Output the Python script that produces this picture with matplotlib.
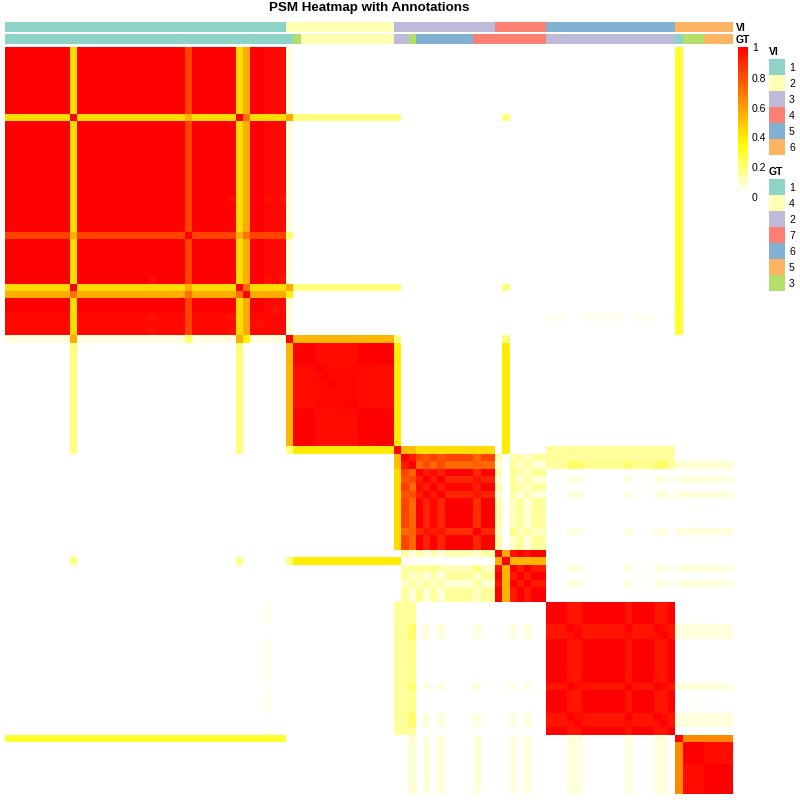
# PSM heatmap with VI and GT annotation bars

import numpy as np
import matplotlib
matplotlib.use('Agg')
import matplotlib.pyplot as plt
from matplotlib.colors import LinearSegmentedColormap, ListedColormap
from matplotlib.patches import Rectangle

plt.rcParams['font.family'] = ['Liberation Sans', 'DejaVu Sans']

n_items = 101
set3 = {'teal': '#8DD3C7', 'pale': '#FFFFB3', 'purple': '#BEBADA', 'salmon': '#FB8072',
        'blue': '#80B1D3', 'orange': '#FDB462', 'green': '#B3DE69'}

vi_levels = [1, 2, 3, 4, 5, 6]
vi_colors = ['teal', 'pale', 'purple', 'salmon', 'blue', 'orange']
vi_runs = [(1, 39), (2, 15), (3, 14), (4, 7), (5, 18), (6, 8)]

gt_levels = [1, 4, 2, 7, 6, 5, 3]
gt_colors = ['teal', 'pale', 'purple', 'salmon', 'blue', 'orange', 'green']
gt_runs = [(1, 40), (3, 1), (4, 13), (2, 2), (3, 1), (6, 8), (7, 10), (2, 18), (1, 1), (3, 3), (5, 4)]

# item groups
block_a = list(range(0, 39))
block_b = list(range(40, 54))
block_c = list(range(55, 68))
block_d = list(range(68, 75))
block_e = list(range(75, 93))
block_f = list(range(93, 101))

# block A: values of the odd rows against the rest
a_plain = [i for i in block_a if i not in (9, 25, 32, 33)]
a_tail = [36, 37, 38]
a_row9 = 0.42
a_row25 = 0.82
a_row33 = 0.55
a_cross = [(9, 25, 0.54), (25, 32, 0.54), (9, 33, 0.70), (32, 33, 0.70), (25, 33, 0.70), (9, 32, 1.0)]
a_spots = [(31, 20, 0.97), (36, 20, 0.95), (38, 20, 0.95), (36, 31, 0.95), (38, 31, 0.95), (34, 36, 0.98), (35, 37, 0.95)]

# item 39 against block A
i39_plain = 0.04
i39_cross = [(9, 0.55), (25, 0.20), (32, 0.55), (33, 0.36)]

# block B
b_groups = [[40, 41, 42], [43, 44, 45, 46, 47], [48], [49, 50, 51, 52, 53]]
b_table = [[1.00, 0.97, 0.97, 1.00],
           [0.97, 0.975, 0.98, 0.97],
           [0.97, 0.98, 1.00, 0.97],
           [1.00, 0.97, 0.97, 1.00]]
b_diag = [43, 44, 45]

# links around block B
i39_b = 0.52
i39_i54 = 0.17
i54_b = 0.38
i54_c = [0.50, 0.50] + [0.42] * 11
i69_b = 0.38
pale_b = 0.17

# block C
c_groups = [[55], [56], [57], [58], [59], [60], [61, 62, 63, 64], [65], [66, 67]]
c_table = [[1.00, 0.93, 0.82, 0.77, 0.84, 0.78, 0.82, 0.72, 0.82],
           [0.93, 1.00, 0.73, 0.80, 0.72, 0.80, 0.72, 0.74, 0.72],
           [0.82, 0.73, 1.00, 0.93, 0.97, 0.92, 1.00, 0.89, 1.00],
           [0.77, 0.80, 0.93, 1.00, 0.93, 1.00, 0.90, 0.95, 0.91],
           [0.84, 0.72, 0.97, 0.93, 1.00, 0.93, 0.98, 0.92, 1.00],
           [0.78, 0.80, 0.92, 1.00, 0.93, 1.00, 0.90, 0.94, 0.90],
           [0.82, 0.72, 1.00, 0.90, 0.98, 0.90, 1.00, 0.88, 1.00],
           [0.72, 0.74, 0.89, 0.95, 0.92, 0.94, 0.88, 1.00, 0.90],
           [0.82, 0.72, 1.00, 0.91, 1.00, 0.90, 1.00, 0.90, 1.00]]

# block D
d_groups = [[68], [69], [70], [71], [72], [73, 74]]
d_table = [[1.00, 0.55, 0.95, 1.00, 0.95, 1.00],
           [0.55, 1.00, 0.52, 0.52, 0.52, 0.52],
           [0.95, 0.52, 1.00, 0.93, 1.00, 0.93],
           [1.00, 0.52, 0.93, 1.00, 0.93, 1.00],
           [0.95, 0.52, 1.00, 0.93, 1.00, 0.93],
           [1.00, 0.52, 0.93, 1.00, 0.93, 1.00]]

# block C rows against block D columns
cd_table = [[0.11, 0.00, 0.11, 0.13, 0.07, 0.13],
            [0.05, 0.00, 0.13, 0.07, 0.13, 0.05],
            [0.11, 0.00, 0.14, 0.11, 0.07, 0.14],
            [0.05, 0.00, 0.13, 0.04, 0.13, 0.05],
            [0.10, 0.00, 0.14, 0.11, 0.08, 0.13],
            [0.05, 0.00, 0.11, 0.04, 0.11, 0.05],
            [0.10, 0.00, 0.09, 0.13, 0.05, 0.13],
            [0.07, 0.00, 0.17, 0.08, 0.13, 0.08],
            [0.11, 0.00, 0.08, 0.13, 0.05, 0.13]]

# block E
e_set1 = [78, 86, 90]
e_set2 = [79, 91]
e_rest = [75, 76, 77, 80, 81, 82, 83, 84, 85, 87, 88, 89, 92]
e_tagged_tagged = 0.97
e_tagged_rest = 0.945

# block F
f_first = [93]
f_mid = [94, 95, 96]
f_last = [97, 98, 99, 100]
f_first_rest = 0.64
f_mid_last = 0.97

# weak links
col93_a = 0.27
i54_55_e = 0.13
i56_e_rest = [0.13, 0.13, 0.13, 0.15, 0.15, 0.15, 0.15, 0.15, 0.15, 0.15, 0.15, 0.15, 0.13]
i56_e_tagged = 0.20
faint_set1 = [58, 60, 65, 70, 72]
faint_set2 = e_set1 + e_set2
faint_value = 0.045
i56_f = 0.06
i36_e_rest = 0.02
i36_93 = 0.27


def link(mat, rows, cols, value):
    for r in rows:
        for c in cols:
            mat[r, c] = value
            mat[c, r] = value


def fill_table(mat, groups, table):
    for gi, g in enumerate(groups):
        for hi, h in enumerate(groups):
            link(mat, g, h, table[gi][hi])


psm = np.zeros((n_items, n_items))

link(psm, block_a, block_a, 1.0)
link(psm, a_tail, a_plain, 0.975)
link(psm, a_tail, a_tail, 0.98)
link(psm, [9, 32], a_plain, a_row9)
link(psm, [25], a_plain, a_row25)
link(psm, [33], a_plain, a_row33)
for r, c, v in a_cross:
    link(psm, [r], [c], v)
for r, c, v in a_spots:
    link(psm, [r], [c], v)
for i in [9, 25, 32, 33]:
    psm[i, i] = 1.0

psm[39, 39] = 1.0
link(psm, [39], block_a, i39_plain)
for c, v in i39_cross:
    link(psm, [39], [c], v)

fill_table(psm, b_groups, b_table)
for i in b_diag:
    psm[i, i] = 1.0
link(psm, [39], block_b, i39_b)
link(psm, [39], [54], i39_i54)
link(psm, [54], block_b, i54_b)
psm[54, 54] = 1.0
for c, v in zip(block_c, i54_c):
    link(psm, [54], [c], v)
link(psm, [9, 32], block_b + [54], pale_b)
link(psm, [69], block_b + [54], i69_b)
link(psm, [69], [9, 32, 39], pale_b)

fill_table(psm, c_groups, c_table)
fill_table(psm, d_groups, d_table)
for gi, g in enumerate(c_groups):
    for hi, h in enumerate(d_groups):
        link(psm, g, h, cd_table[gi][hi])

link(psm, block_e, block_e, 1.0)
link(psm, e_set1 + e_set2, e_rest, e_tagged_rest)
link(psm, e_set1, e_set2, e_tagged_tagged)

link(psm, block_f, block_f, 1.0)
link(psm, f_first, f_mid + f_last, f_first_rest)
link(psm, f_mid, f_last, f_mid_last)

link(psm, [93], block_a, col93_a)
link(psm, [54, 55], block_e, i54_55_e)
for c, v in zip(e_rest, i56_e_rest):
    link(psm, [56], [c], v)
link(psm, [56], e_set1 + e_set2, i56_e_tagged)
link(psm, faint_set1, faint_set2, faint_value)
link(psm, faint_set1 + faint_set2, block_f, faint_value)
link(psm, [56], block_f, i56_f)
link(psm, [36], e_rest, i36_e_rest)
link(psm, [36], [93], i36_93)

cmap = LinearSegmentedColormap.from_list('psm', [(0, '#FFFFFF'), (0.33, '#FFFF00'), (1, '#FF0000')], N=512)


def ax_px(x0, y0, x1, y1):
    ax = fig.add_axes([x0 / 800, 1 - y1 / 800, (x1 - x0) / 800, (y1 - y0) / 800])
    ax.axis('off')
    return ax


def px_text(x, y, s, **kw):
    fig.text(x / 800, 1 - y / 800, s, va='center', color='black', **kw)


fig = plt.figure(figsize=(8, 8), dpi=100)
fig.patch.set_facecolor('white')

ax = ax_px(5, 47, 733, 794)
im = ax.imshow(psm, cmap=cmap, vmin=0, vmax=1, aspect='auto', interpolation='nearest')

# annotation bars
for runs, levels, names, top in [(vi_runs, vi_levels, vi_colors, 22), (gt_runs, gt_levels, gt_colors, 34)]:
    labels = np.concatenate([[lev] * cnt for lev, cnt in runs])
    codes = np.array([levels.index(v) for v in labels]).reshape(1, -1)
    bar = ax_px(5, top, 733, top + 10)
    bar.imshow(codes, cmap=ListedColormap([set3[c] for c in names]), vmin=0, vmax=len(names) - 1,
               aspect='auto', interpolation='nearest')

px_text(736, 28, 'VI', fontsize=7.5, fontweight='bold')
px_text(736, 40, 'GT', fontsize=7.5, fontweight='bold')

fig.text(369 / 800, 1 - 8.5 / 800, 'PSM Heatmap with Annotations', ha='center', va='center',
         fontsize=9.6, fontweight='bold')

# colour bar
cax = ax_px(738, 47, 748, 193)
cbar = fig.colorbar(im, cax=cax)
cbar.outline.set_visible(False)
cbar.set_ticks([])
for y, s in zip([48, 79, 109, 138, 168, 198], ['1', '0.8', '0.6', '0.4', '0.2', '0']):
    px_text(752, y, s, fontsize=7.5)

# legends
leg = fig.add_axes([0, 0, 1, 1])
leg.set_xlim(0, 800)
leg.set_ylim(800, 0)
leg.axis('off')
leg.patch.set_alpha(0)
for title, levels, names, top in [('VI', vi_levels, vi_colors, 59), ('GT', gt_levels, gt_colors, 179)]:
    px_text(769, top - 7, title, fontsize=7.5, fontweight='bold')
    for k, (lev, c) in enumerate(zip(levels, names)):
        leg.add_patch(Rectangle((769, top + k * 16), 16, 16, facecolor=set3[c], edgecolor='none'))
        px_text(789, top + k * 16 + 9, str(lev), fontsize=7.5)

fig.savefig('out.png', dpi=100)
